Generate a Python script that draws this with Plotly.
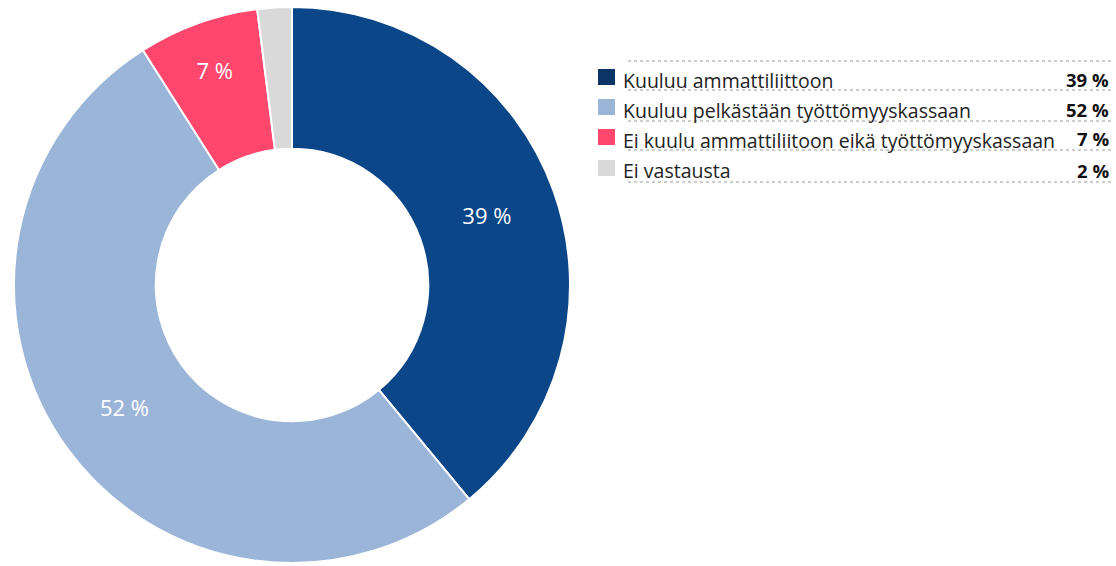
import plotly.graph_objects as go

labels = ["Kuuluu ammattiliittoon", "Kuuluu pelkästään työttömyyskassaan",
          "Ei kuulu ammattiliitoon eikä työttömyyskassaan", "Ei vastausta"]
values = [39, 52, 7, 2]
slice_colors = ["#0B4689", "#9BB5D9", "#FF476E", "#D9D9D9"]
legend_colors = ["#0A3566", "#9BB5D9", "#FF476E", "#D9D9D9"]
shown_text = ["39 %", "52 %", "7 %", ""]

W, H = 1116, 566
FONT = "Open Sans, sans-serif"

fig = go.Figure(go.Pie(
    labels=labels,
    values=values,
    sort=False,
    direction="clockwise",
    rotation=0,
    hole=0.49,
    text=shown_text,
    textinfo="text",
    textposition="inside",
    insidetextorientation="horizontal",
    insidetextfont=dict(color="white", size=22, family=FONT),
    marker=dict(colors=slice_colors, line=dict(color="white", width=2)),
    domain=dict(x=[14 / W, 570 / W], y=[3 / H, 559 / H]),
    showlegend=False,
    hoverinfo="label+percent",
))

shapes = []
annotations = []

def px(x):
    return x / W

def py(y):
    return 1 - y / H

# dotted rules of the legend table
for yline in [61, 90, 121, 150, 182]:
    shapes.append(dict(type="line", xref="paper", yref="paper",
                       x0=px(628), x1=px(1112), y0=py(yline), y1=py(yline),
                       line=dict(color="#9A9A9A", width=1, dash="dot")))

row_centers = [77, 107, 137, 168]
for i, (lab, val) in enumerate(zip(labels, values)):
    yc = row_centers[i]
    shapes.append(dict(type="rect", xref="paper", yref="paper",
                       x0=px(598), x1=px(615), y0=py(yc - 8), y1=py(yc + 8),
                       fillcolor=legend_colors[i], line=dict(width=0)))
    annotations.append(dict(xref="paper", yref="paper", x=px(621), y=py(yc + 3),
                            text=lab, showarrow=False, xanchor="left", yanchor="middle",
                            font=dict(size=19.5, color="#222222", family=FONT)))
    annotations.append(dict(xref="paper", yref="paper", x=px(1111), y=py(yc + 2),
                            text=f"<b>{val} %</b>", showarrow=False, xanchor="right",
                            yanchor="middle",
                            font=dict(size=18.5, color="#111111", family=FONT)))

fig.update_layout(
    width=W, height=H,
    margin=dict(l=0, r=0, t=0, b=0),
    paper_bgcolor="white",
    plot_bgcolor="white",
    shapes=shapes,
    annotations=annotations,
)

fig.write_html("out.html")
